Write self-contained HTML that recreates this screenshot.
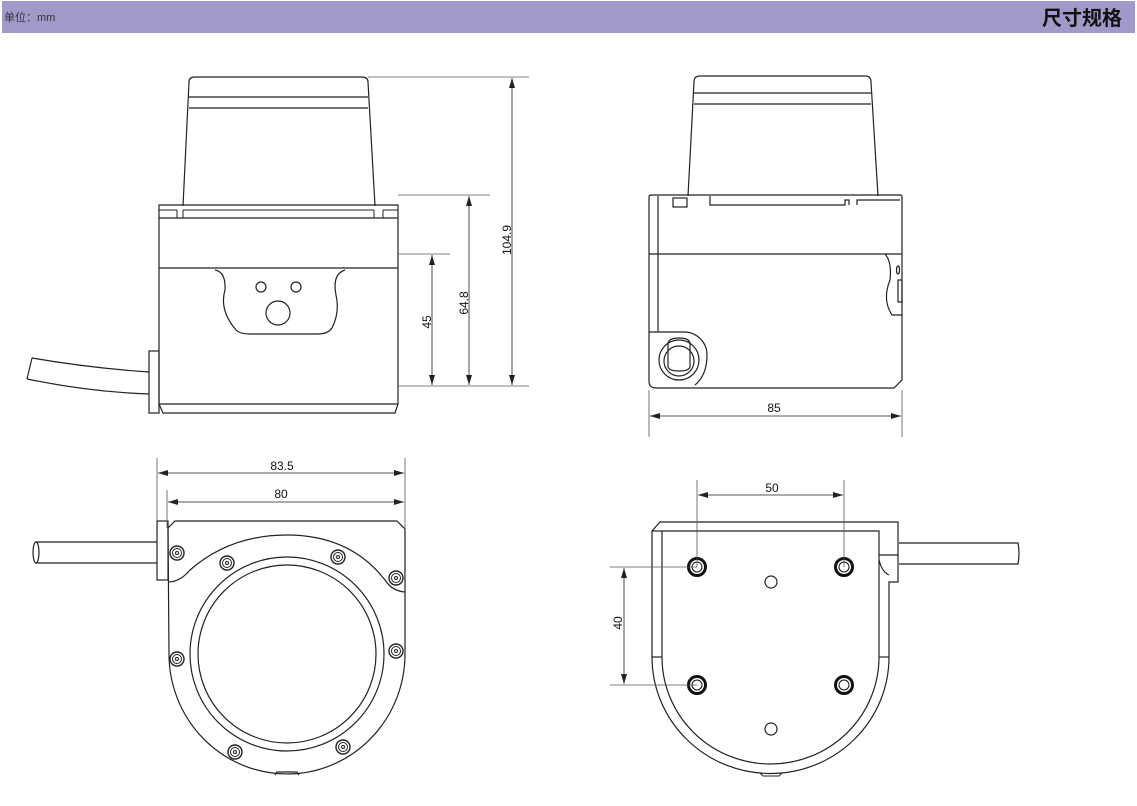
<!DOCTYPE html>
<html><head><meta charset="utf-8"><style>
html,body{margin:0;padding:0;background:#fff;width:1137px;height:806px;overflow:hidden}
svg{display:block}
text{font-family:"Liberation Sans","Noto Sans CJK SC",sans-serif}
</style></head><body>
<svg width="1137" height="806" viewBox="0 0 1137 806" xmlns="http://www.w3.org/2000/svg">
<defs>
<marker id="a" viewBox="0 0 10 6" refX="10" refY="3" markerWidth="10" markerHeight="6" orient="auto-start-reverse" markerUnits="userSpaceOnUse"><path d="M0,0 L10,3 L0,6z" fill="#222"/></marker>
</defs>
<rect x="2" y="1" width="1133" height="32" fill="#a399c9"/>
<text x="4" y="21" font-size="11" fill="#333">单位：mm</text>
<text x="1122" y="25" font-size="20" font-weight="bold" text-anchor="end" fill="#111">尺寸规格</text>

<g fill="none" stroke="#222" stroke-width="1.2">
<!-- FRONT VIEW -->
<path d="M183,206 L189,82 Q189,77 195,77 L362,77 Q368,77 368,82 L375,206"/>
<line x1="189" y1="97" x2="368" y2="97"/><line x1="189" y1="108" x2="368" y2="108"/>
<path d="M159,205 L398,205 L398,404 L395,413 L163,413 L159,404 Z"/>
<line x1="159" y1="218" x2="398" y2="218"/>
<path d="M159,210 L177,210 M183,210 L374,210 M383,210 L398,210 M177,210 L177,218 M183,210 L183,218 M374,210 L374,218 M383,210 L383,218" stroke-width="1"/>
<line x1="159" y1="268" x2="398" y2="268"/>
<line x1="159" y1="404" x2="398" y2="404"/>
<path d="M215,270 Q226,272 225,290 Q219,310 236,330 Q240,334 250,334 L318,334 Q328,334 332,328 Q340,312 336,295 Q332,274 345,270"/>
<circle cx="261" cy="287" r="5"/><circle cx="296" cy="287" r="5"/><circle cx="278" cy="313" r="12"/>
<rect x="149" y="351" width="10" height="62"/>
<path d="M32,358 Q90,368 149,372 M27,379 Q90,392 149,394 M32,358 L27,379"/>
<g stroke="#555" stroke-width="0.8">
<line x1="368" y1="77" x2="529" y2="77"/><line x1="398" y1="195" x2="490" y2="195"/>
<line x1="398" y1="254" x2="450" y2="254"/><line x1="398" y1="386" x2="529" y2="386"/>
</g>
</g>
<g stroke="#222" stroke-width="0.8" fill="none">
<line x1="512" y1="78" x2="512" y2="385" marker-start="url(#a)" marker-end="url(#a)"/>
<line x1="469" y1="196" x2="469" y2="385" marker-start="url(#a)" marker-end="url(#a)"/>
<line x1="432" y1="255" x2="432" y2="385" marker-start="url(#a)" marker-end="url(#a)"/>
</g>
<g font-size="12" fill="#111">
<text transform="translate(511,240) rotate(-90)" text-anchor="middle">104.9</text>
<text transform="translate(468,303) rotate(-90)" text-anchor="middle">64.8</text>
<text transform="translate(431,322) rotate(-90)" text-anchor="middle">45</text>
</g>

<!-- SIDE VIEW -->
<g fill="none" stroke="#222" stroke-width="1.2">
<path d="M688,196 L694,82 Q694,76 700,76 L865,76 Q871,76 871,82 L878,196"/>
<line x1="694" y1="93" x2="871" y2="93"/><line x1="694" y1="104" x2="871" y2="104"/>
<path d="M649,197 Q649,195 651,195 L900,195 Q902,195 902,197 L902,380 L894,388 L656,388 Q649,388 649,381 Z"/>
<line x1="658" y1="196" x2="658" y2="332"/>
<line x1="649" y1="254" x2="902" y2="254"/>
<rect x="673" y="198" width="14" height="9"/>
<path d="M710,196 L710,205 L845,205 L845,200 L849,200 L849,205 M857,205 L857,200 L900,200"/>
<path d="M885,254 Q892,262 890,280 Q882,300 892,315 L902,315"/>
<ellipse cx="898" cy="270" rx="1.5" ry="4"/><rect x="898" y="280" width="4" height="22"/>
<path d="M649,332 L684,332 A23,23 0 0 1 707,355 Q707,375 695,385"/>
<circle cx="679" cy="360" r="20"/><circle cx="679" cy="361" r="15"/>
<path d="M668,366 L668,344 Q668,338 679,338 Q690,338 690,344 L690,366 Q690,371 679,371 Q668,371 668,366 Z"/>
</g>
<g stroke="#555" stroke-width="0.8"><line x1="649" y1="390" x2="649" y2="437"/><line x1="902" y1="390" x2="902" y2="437"/></g>
<line x1="650" y1="416" x2="901" y2="416" stroke="#222" stroke-width="0.8" marker-start="url(#a)" marker-end="url(#a)"/>
<text x="774" y="412" font-size="12" text-anchor="middle" fill="#111">85</text>

<!-- BOTTOM-LEFT VIEW -->
<g fill="none" stroke="#222" stroke-width="1.2">
<path d="M175,521 L397,521 L405,529 L405,654 A118,120 0 0 1 169,654 L168,528 Z"/>
<path d="M168,582 Q180,582 190,570 Q230,535 287,535 Q350,535 385,580 Q392,591 405,592"/>
<circle cx="287" cy="654" r="97"/><circle cx="287" cy="654" r="89"/>
<rect x="157" y="521" width="11" height="59"/>
<path d="M35,542 L157,542 M35,563 L157,563"/><ellipse cx="36" cy="552.5" rx="3" ry="10.5"/>
<path d="M275,775 L277,772 L297,772 L299,775"/>
</g>
<g fill="none" stroke="#222">
<g stroke-width="1.4">
<circle cx="177" cy="553" r="7"/><circle cx="227" cy="563" r="7"/><circle cx="338" cy="557" r="7"/><circle cx="396" cy="578" r="7"/>
<circle cx="177" cy="659" r="7"/><circle cx="396" cy="651" r="7"/><circle cx="235" cy="752" r="7"/><circle cx="343" cy="747" r="7"/>
</g>
<g stroke-width="1">
<circle cx="177" cy="553" r="4.5"/><circle cx="227" cy="563" r="4.5"/><circle cx="338" cy="557" r="4.5"/><circle cx="396" cy="578" r="4.5"/>
<circle cx="177" cy="659" r="4.5"/><circle cx="396" cy="651" r="4.5"/><circle cx="235" cy="752" r="4.5"/><circle cx="343" cy="747" r="4.5"/>
<circle cx="177" cy="553" r="1.5"/><circle cx="227" cy="563" r="1.5"/><circle cx="338" cy="557" r="1.5"/><circle cx="396" cy="578" r="1.5"/>
<circle cx="177" cy="659" r="1.5"/><circle cx="396" cy="651" r="1.5"/><circle cx="235" cy="752" r="1.5"/><circle cx="343" cy="747" r="1.5"/>
</g>
</g>
<g stroke="#555" stroke-width="0.8"><line x1="157" y1="458" x2="157" y2="521"/><line x1="405" y1="458" x2="405" y2="529"/><line x1="167" y1="490" x2="167" y2="528"/></g>
<line x1="158" y1="473" x2="404" y2="473" stroke="#222" stroke-width="0.8" marker-start="url(#a)" marker-end="url(#a)"/>
<line x1="168" y1="502" x2="404" y2="502" stroke="#222" stroke-width="0.8" marker-start="url(#a)" marker-end="url(#a)"/>
<text x="282" y="470" font-size="12" text-anchor="middle" fill="#111">83.5</text>
<text x="281" y="498" font-size="12" text-anchor="middle" fill="#111">80</text>

<!-- BOTTOM-RIGHT VIEW -->
<g fill="none" stroke="#222" stroke-width="1.2">
<path d="M652,657 L652,531 L660,522 L898,522 L898,582 L889,582 L889,657 A118,116 0 0 1 652,657"/>
<path d="M662,531 L662,657 A108.5,107 0 0 0 879,657 L879,531 Z"/>
<line x1="652" y1="531" x2="662" y2="531"/>
<line x1="652" y1="657" x2="662" y2="657"/><line x1="879" y1="657" x2="889" y2="657"/>
<path d="M879,555 L898,555 M879,560 Q882,572 889,575"/>
<path d="M899,543 L1018,543 Q1020,553 1018,564 L899,564"/>
<circle cx="771" cy="582" r="6"/><circle cx="771" cy="729" r="6"/>
<path d="M760,773 L763,776 L779,776 L782,773" stroke-width="1"/>
</g>
<g fill="none" stroke="#111">
<g stroke-width="3"><circle cx="697" cy="567" r="8.5"/><circle cx="844" cy="567" r="8.5"/><circle cx="697" cy="685" r="8.5"/><circle cx="844" cy="685" r="8.5"/></g>
<g stroke-width="1"><circle cx="697" cy="567" r="5"/><circle cx="844" cy="567" r="5"/><circle cx="697" cy="685" r="5"/><circle cx="844" cy="685" r="5"/></g>
</g>
<g stroke="#555" stroke-width="0.8">
<line x1="697" y1="480" x2="697" y2="567"/><line x1="844" y1="480" x2="844" y2="567"/>
<line x1="610" y1="567" x2="697" y2="567"/><line x1="610" y1="685" x2="697" y2="685"/>
</g>
<line x1="698" y1="495" x2="843" y2="495" stroke="#222" stroke-width="0.8" marker-start="url(#a)" marker-end="url(#a)"/>
<line x1="624" y1="568" x2="624" y2="684" stroke="#222" stroke-width="0.8" marker-start="url(#a)" marker-end="url(#a)"/>
<text x="772" y="492" font-size="12" text-anchor="middle" fill="#111">50</text>
<text transform="translate(622,623) rotate(-90)" font-size="12" text-anchor="middle" fill="#111">40</text>
</svg>
</body></html>
